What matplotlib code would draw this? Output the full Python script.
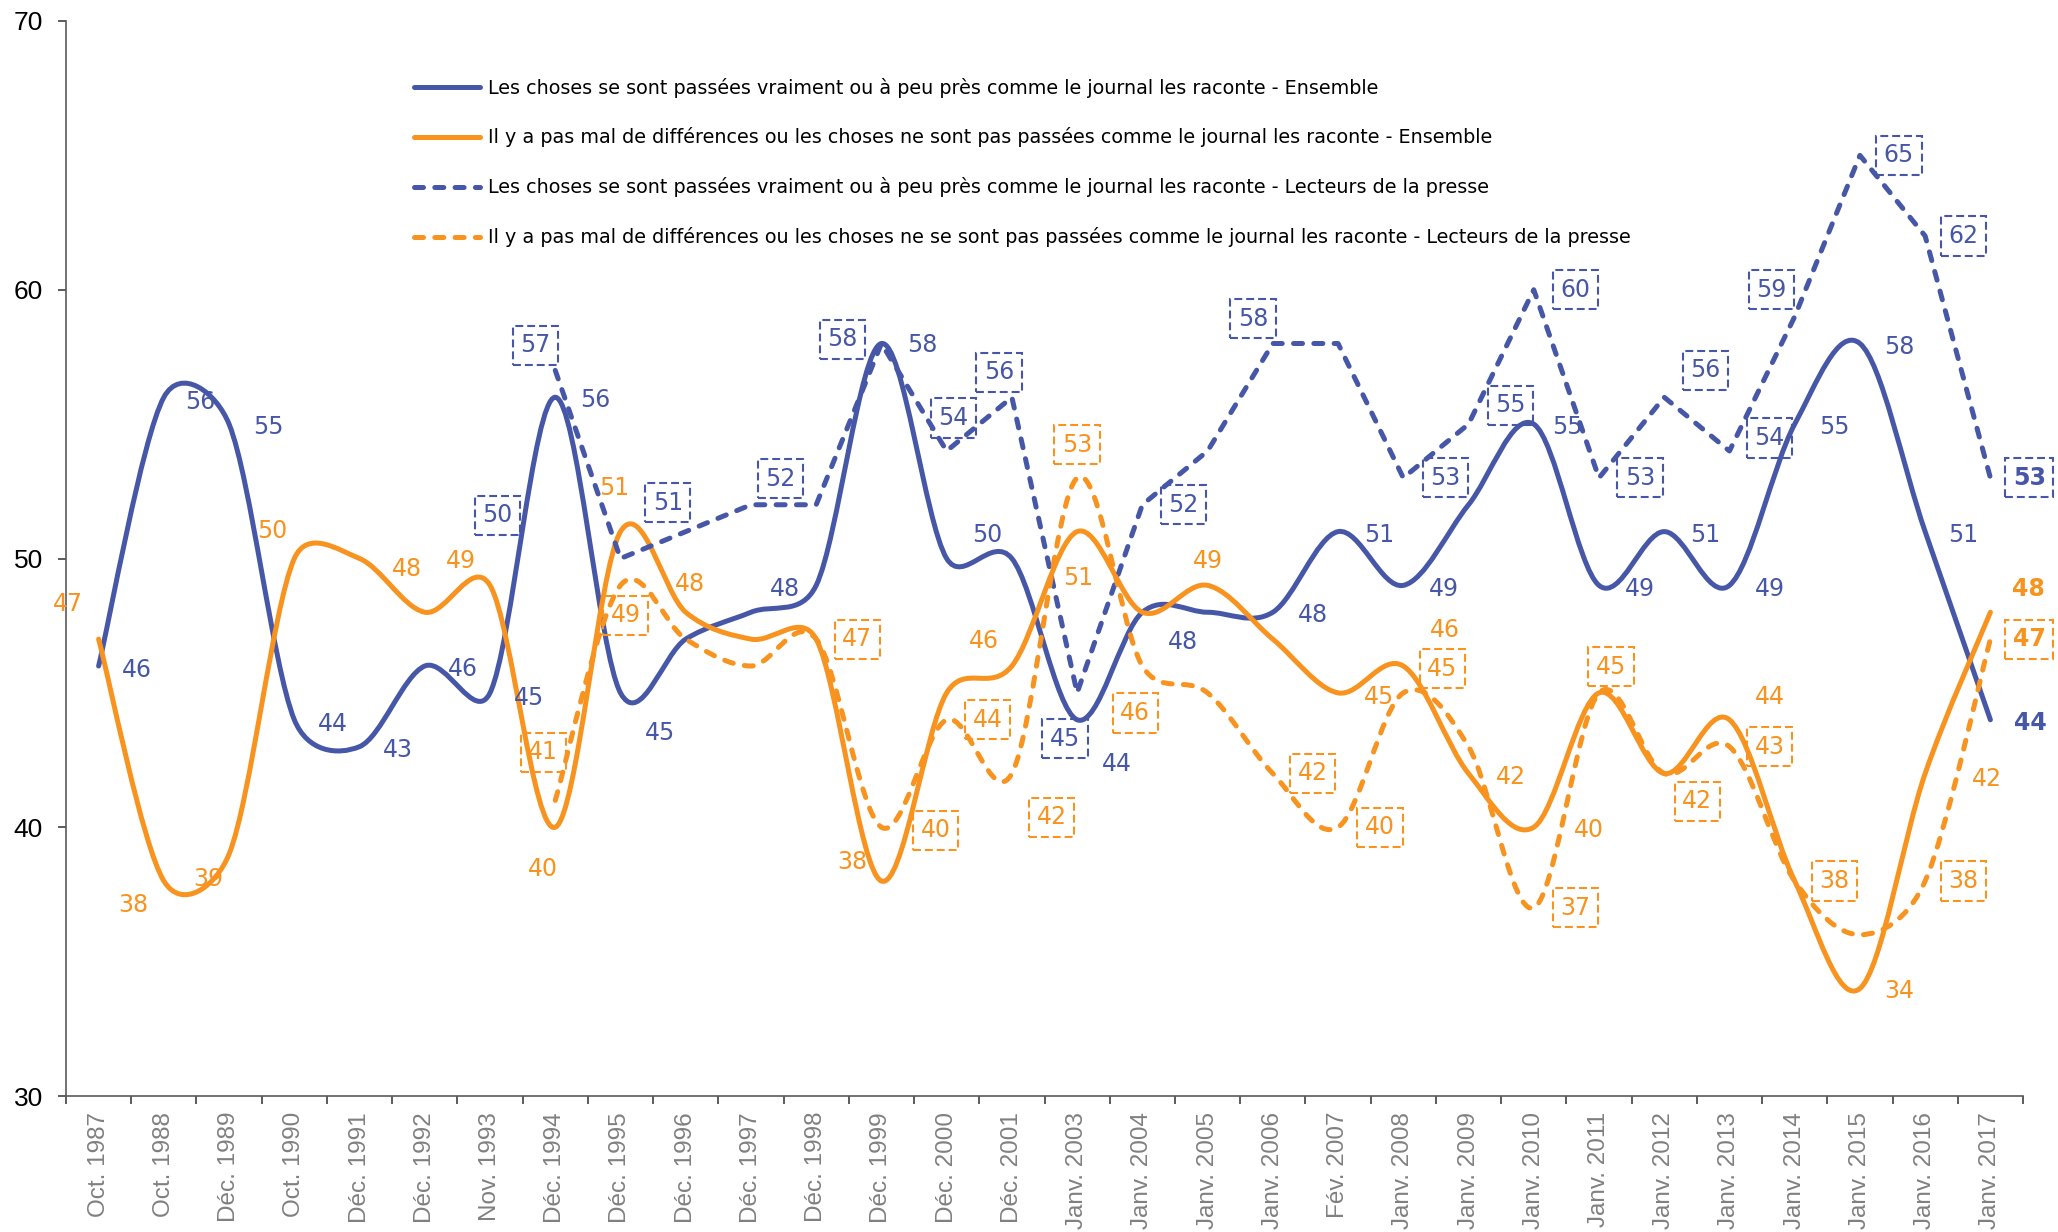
import matplotlib
matplotlib.use('Agg')
import matplotlib.pyplot as plt
from matplotlib.path import Path
from matplotlib.patches import PathPatch
from matplotlib.lines import Line2D
import numpy as np

# ---------------- data ----------------
categories = ["Oct. 1987", "Oct. 1988", "Déc. 1989", "Oct. 1990", "Déc. 1991", "Déc. 1992",
              "Nov. 1993", "Déc. 1994", "Déc. 1995", "Déc. 1996", "Déc. 1997", "Déc. 1998",
              "Déc. 1999", "Déc. 2000", "Déc. 2001", "Janv. 2003", "Janv. 2004", "Janv. 2005",
              "Janv. 2006", "Fév. 2007", "Janv. 2008", "Janv. 2009", "Janv. 2010", "Janv. 2011",
              "Janv. 2012", "Janv. 2013", "Janv. 2014", "Janv. 2015", "Janv. 2016", "Janv. 2017"]

vraiment_ensemble = [46, 56, 55, 44, 43, 46, 45, 56, 45, 47, 48, 49, 58, 50, 50, 44, 48, 48,
                     48, 51, 49, 52, 55, 49, 51, 49, 55, 58, 51, 44]
differences_ensemble = [47, 38, 39, 50, 50, 48, 49, 40, 51, 48, 47, 47, 38, 45, 46, 51, 48, 49,
                        47, 45, 46, 42, 40, 45, 42, 44, 38, 34, 42, 48]
vraiment_lecteurs = [None] * 7 + [57, 50, 51, 52, 52, 58, 54, 56, 45, 52, 54, 58, 58, 53, 55,
                                  60, 53, 56, 54, 59, 65, 62, 53]
differences_lecteurs = [None] * 7 + [41, 49, 47, 46, 47, 40, 44, 42, 53, 46, 45, 42, 40, 45,
                                     43, 37, 45, 42, 43, 38, 36, 38, 47]

legend_labels = [
    "Les choses se sont passées vraiment ou à peu près comme le journal les raconte - Ensemble",
    "Il y a pas mal de différences ou les choses ne sont pas passées comme le journal les raconte - Ensemble",
    "Les choses se sont passées vraiment ou à peu près comme le journal les raconte - Lecteurs de la presse",
    "Il y a pas mal de différences ou les choses ne se sont pas passées comme le journal les raconte - Lecteurs de la presse",
]

# label placement (pixel offsets right / down from the point); None = no label
off_vraiment_ens = [(38, 2), (36, 3), (39, 1), (39, 2), (38, 1), (38, 1), (39, 3), (40, 1),
                    (40, 38), None, (34, -25), None, (41, -1), (41, -26), None, (40, 42),
                    (41, 28), None, (40, 1), (41, 1), (41, 2), None, (34, 1), (41, 2), (41, 1),
                    (40, 2), (40, 1), (39, 1), (38, 1), (40, 1)]
off_diff_ens = [(-31, -37), (-31, 22), (-21, 23), (-22, -30), None, (-18, -45), (-29, -26),
                (-12, 40), (-6, -46), (4, -30), None, None, (-29, -21), None, (-28, -27),
                (1, 44), None, (0, -26), None, (41, 2), (42, -38), (42, 2), (55, 1), None,
                None, (40, -25), None, (39, 1), (62, 3), (38, -25)]
off_vraiment_lec = [None] * 7 + [(-20, -25), (-123, -43), (-18, -29), None, (-36, -26),
                                 (-39, -4), (7, -33), (-13, -25), (-12, 46), (41, 0), None,
                                 (-20, -25), None, (42, 0), (42, -19), (42, 0), (41, 0),
                                 (41, -27), (40, -13), (-23, -27), (39, 0), (38, 0), (39, 0)]
off_diff_lec = [None] * 7 + [(-12, -48), (5, 30), None, None, (41, 0), (54, 3), (41, 0),
                             (40, 44), (0, -33), (-7, 47), None, (40, 0), (42, 0), (39, -24),
                             None, (42, 0), (12, -26), (33, 28), (40, 0), (40, 0), None,
                             (38, 0), (39, 0)]

# ---------------- style ----------------
BLUE = '#4757A7'
ORANGE = '#F7931E'
LW = 3.6
DASH = (0, (1.8, 2.26))
W, H = 2058, 1232

fig = plt.figure(figsize=(W / 100, H / 100), dpi=100)
ax = fig.add_axes([66 / W, 1 - 1096 / H, (2023 - 66) / W, (1096 - 21) / H])
ax.set_xlim(-0.5, len(categories) - 0.5)
ax.set_ylim(30, 70)


def smooth_path(xs, ys):
    """Spreadsheet-style smoothed line: Bezier segments, tangents limited by segment length."""
    pts = ax.transData.transform(np.column_stack([xs, ys]).astype(float))
    n = len(pts)
    verts = [pts[0]]
    codes = [Path.MOVETO]
    for i in range(n - 1):
        p0 = pts[i - 1] if i > 0 else pts[i]
        p1 = pts[i]
        p2 = pts[i + 1]
        p3 = pts[i + 2] if i + 2 < n else pts[i + 1]
        seg = np.hypot(*(p2 - p1))
        t1 = (p2 - p0) / 6.0
        t2 = (p3 - p1) / 6.0
        n1 = np.hypot(*t1)
        n2 = np.hypot(*t2)
        if n1 > seg / 2:
            t1 = t1 * (seg / 2) / n1
        if n2 > seg / 2:
            t2 = t2 * (seg / 2) / n2
        verts += [p1 + t1, p2 - t2, p2]
        codes += [Path.CURVE4] * 3
    verts = ax.transData.inverted().transform(np.array(verts))
    return Path(verts, codes)


# (values, colour, linestyle, label offsets, boxed labels, smoothed)
series = [
    (vraiment_ensemble, BLUE, '-', off_vraiment_ens, False, True),
    (differences_ensemble, ORANGE, '-', off_diff_ens, False, True),
    (vraiment_lecteurs, BLUE, DASH, off_vraiment_lec, True, False),
    (differences_lecteurs, ORANGE, DASH, off_diff_lec, True, True),
]

for vals, color, ls, offs, boxed, smooth in series:
    idx = [i for i, v in enumerate(vals) if v is not None]
    xs = np.array(idx)
    ys = np.array([vals[i] for i in idx])
    if smooth:
        patch = PathPatch(smooth_path(xs, ys), fill=False, edgecolor=color, lw=LW,
                          linestyle=ls, capstyle='round', joinstyle='round', zorder=3)
        ax.add_patch(patch)
    else:
        ax.plot(xs, ys, color=color, lw=LW, ls=ls, dash_capstyle='round',
                dash_joinstyle='round', solid_capstyle='round', solid_joinstyle='round',
                zorder=3)
    for i in idx:
        off = offs[i]
        if off is None:
            continue
        bold = (i == len(vals) - 1)
        kw = dict(fontsize=17, color=color, ha='center', va='center',
                  family='DejaVu Sans', fontweight='bold' if bold else 'normal',
                  textcoords='offset pixels', zorder=5)
        if boxed:
            kw['bbox'] = dict(boxstyle='square,pad=0.32', fc='none', ec=color, lw=1.5,
                              linestyle=(0, (3.8, 1.9)))
            ax.annotate(str(vals[i]), xy=(i, vals[i]), xytext=(off[0], -off[1]), **kw)
        else:
            ax.annotate(str(vals[i]), xy=(i, vals[i]), xytext=(off[0], -(off[1] + 2)), **kw)

# ---------------- axes ----------------
ax.set_xticks(np.arange(-0.5, len(categories), 1.0))
ax.set_xticklabels([])
ax.set_xticks(np.arange(len(categories)), minor=True)
ax.set_xticklabels(categories, minor=True, rotation=90, fontsize=17.5, color='#808080',
                   family='Liberation Sans')
ax.tick_params(axis='x', which='minor', length=0, pad=11.5)
ax.tick_params(axis='x', which='major', length=5.8, width=1.2, color='#404040')
ax.set_yticks([30, 40, 50, 60, 70])
ax.set_yticklabels(['30', '40', '50', '60', '70'], fontsize=19, family='Liberation Sans',
                   color='black')
ax.tick_params(axis='y', length=5.8, width=1.2, pad=10.8, color='#404040')
for s in ['top', 'right']:
    ax.spines[s].set_visible(False)
for s in ['left', 'bottom']:
    ax.spines[s].set_color('#5a5a5a')
    ax.spines[s].set_linewidth(1.2)

# ---------------- legend ----------------
handles = [
    Line2D([], [], color=BLUE, lw=LW, solid_capstyle='round'),
    Line2D([], [], color=ORANGE, lw=LW, solid_capstyle='round'),
    Line2D([], [], color=BLUE, lw=LW, ls=DASH, dash_capstyle='round'),
    Line2D([], [], color=ORANGE, lw=LW, ls=DASH, dash_capstyle='round'),
]
fs = 13.75
fs_px = fs * 100 / 72
ax.legend(handles, legend_labels, loc='upper left',
          bbox_to_anchor=((411 + 2.5) / W, 1 - 77.5 / H), bbox_transform=fig.transFigure,
          frameon=False, prop={'family': 'DejaVu Sans', 'size': fs},
          handlelength=66 / fs_px, handletextpad=8.5 / fs_px, labelspacing=1.57,
          borderpad=0, borderaxespad=0)

fig.savefig('out.png', dpi=100)
